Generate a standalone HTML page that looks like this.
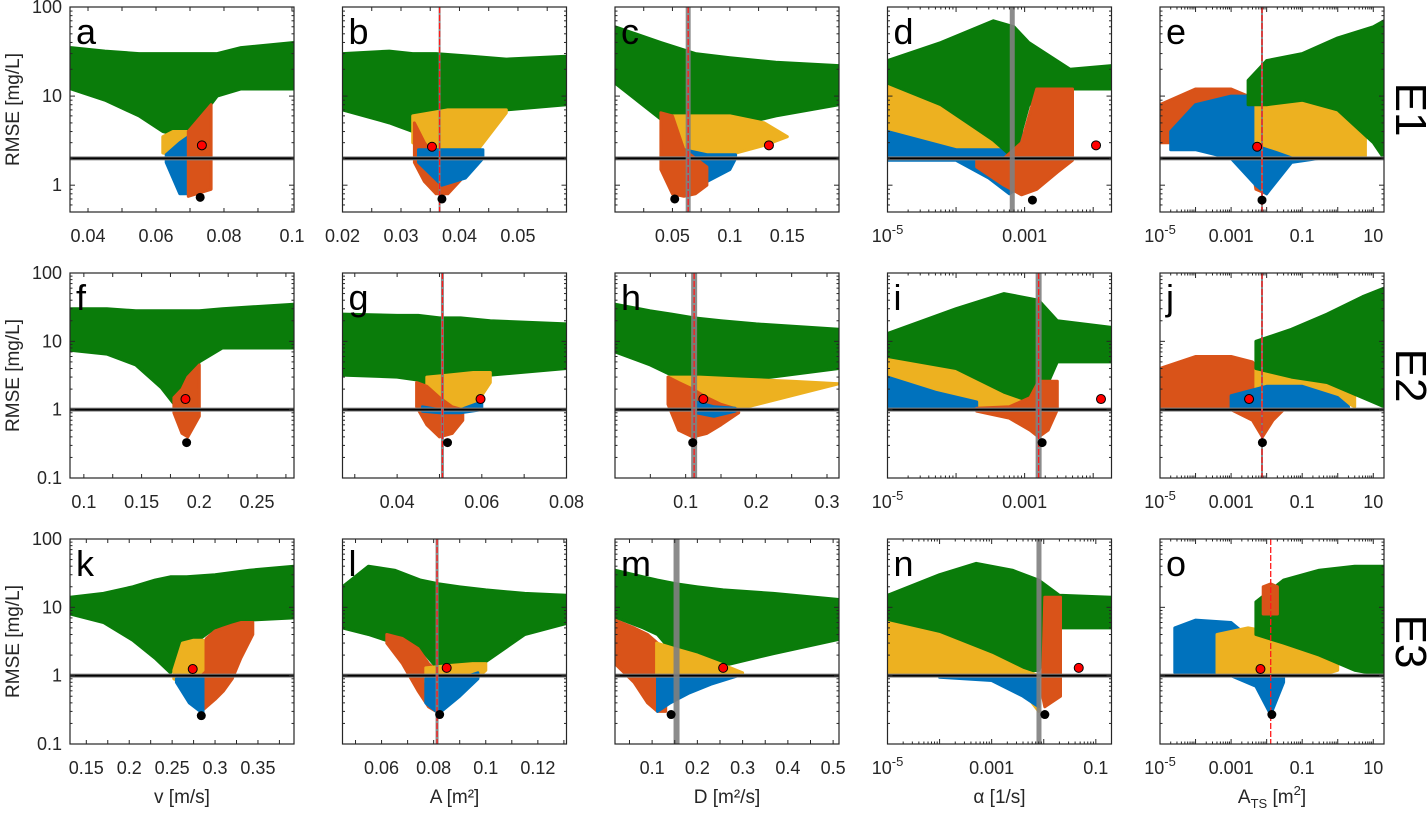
<!DOCTYPE html>
<html><head><meta charset="utf-8"><style>
html,body{margin:0;padding:0;background:#fff;}
svg{display:block;font-family:"Liberation Sans",Arial,sans-serif;}
</style></head><body>
<svg id="fig" width="1427" height="828" viewBox="0 0 1427 828" xmlns="http://www.w3.org/2000/svg"></svg>
<script>
// ---------- data (x in parameter units, y = RMSE mg/L) ----------
const aG_x=[0.035,0.045,0.055,0.062,0.068,0.072,0.078,0.085,0.1006], aG_hi=[35,32,30,30,30,30,30,35,40], aG_lo=[12,9,6,4,3.5,5,10,12,12];
const aY_x=[0.062,0.065,0.069], aY_hi=[3.5,4,4], aY_lo=[2.3,2.2,2.5];
const aB_x=[0.063,0.067,0.0695], aB_hi=[2.2,3,3.5], aB_lo=[1.8,0.8,0.8];
const aO_x=[0.0695,0.0762], aO_hi=[4,8], aO_lo=[0.75,0.9];

const bG_x=[0.02,0.028,0.032,0.036,0.042,0.048,0.0583], bG_hi=[30,32,30,30,28,26,28], bG_lo=[7,5,4,4,5,7,8];
const bY_x=[0.032,0.038,0.042,0.048], bY_hi=[6,7,7,7], bY_lo=[3,2,2,6.5];
const bB_x=[0.033,0.037,0.041,0.044], bB_hi=[2.5,2.5,2.5,2.5], bB_lo=[1.8,1.0,1.2,2.0];
const bO_x=[0.0323,0.034,0.036,0.038,0.0405], bO_hi=[5,3,2,2,2], bO_lo=[1.8,1.1,0.8,0.8,1.2];

const cG_x=[0,0.04,0.07,0.1,0.14,0.195], cG_hi=[60,40,30,27,24,22], cG_lo=[14,5.5,4.5,4.5,6,8];
const cY_x=[0.045,0.07,0.1,0.13,0.15], cY_hi=[6,6,6,5,3.5], cY_lo=[3,2.0,2.2,2.8,3.5];
const cB_x=[0.045,0.06,0.08,0.1,0.105], cB_hi=[3,2.5,2.2,2.2,2.2], cB_lo=[1.5,1.0,1.1,1.5,2.0];
const cO_x=[0.04,0.05,0.06,0.07,0.08], cO_hi=[6.5,6,2.5,2,1.6], cO_lo=[1.5,0.8,0.75,0.8,1.0];

const dG_x=[1e-5,6e-5,3.5e-4,7e-4,1.15e-3,4.6e-3,0.0185], dG_hi=[25,40,70,60,40,20,22], dG_lo=[14,8,3.2,2,8,12,12];
const dY_x=[1e-5,1e-4,5e-4,1e-3], dY_hi=[14,12,6,3], dY_lo=[2,2,2,2];
const dB_x=[1e-5,1e-4,3e-4,6e-4,9e-4], dB_hi=[4,2.5,2.5,2.5,4], dB_lo=[1.9,1.9,1.2,0.8,1.0];
const dO_x=[2e-4,5e-4,9e-4,1.5e-3,3e-3,5e-3], dO_hi=[2,2,3,12,12,12], dO_lo=[1.6,1.0,0.78,0.9,1.4,1.9];

const eO_x=[1e-5,1e-4,1e-3,3e-3,5e-3,0.01,0.02], eO_hi=[8,12,12,10,6,3,2], eO_lo=[3,3,4,3,0.9,0.8,1.8];
const eB_x=[2e-5,1e-4,1e-3,5e-3,0.01,0.05,0.3], eB_hi=[4,8,10,10,8,5,2.5], eB_lo=[2.5,2.5,2,1,0.8,1.8,2];
const eY_x=[5e-3,0.02,0.1,1,6], eY_hi=[14,15,15,12,8], eY_lo=[3,2.5,2,2,2];
const eG_x=[3e-3,0.01,0.1,1,10,20], eG_hi=[15,25,30,45,60,70], eG_lo=[8,8,9,7,3,2];

const fG_x=[0.088,0.12,0.145,0.167,0.18,0.19,0.2,0.22,0.282], fG_hi=[30,30,28,28,28,28,28,30,35], fG_lo=[7.4,6.5,4.5,2.1,1.1,2,5,8,8];
const fO_x=[0.178,0.185,0.19,0.2], fO_hi=[1.5,2,3,4.5], fO_lo=[0.9,0.45,0.4,0.8];

const gG_x=[0.0271,0.04,0.045,0.05,0.055,0.062,0.08], gG_hi=[25,24,24,22,22,20,18], gG_lo=[3.2,3,2.7,1.8,2.2,3.2,4];
const gY_x=[0.047,0.052,0.058,0.062], gY_hi=[3,3.2,3.5,3.5], gY_lo=[1.2,1.05,1.05,2.5];
const gO_x=[0.0446,0.047,0.05,0.053,0.0555], gO_hi=[2.5,2.2,1.5,1.1,1], gO_lo=[1.1,0.6,0.4,0.45,0.7];
const gB_x=[0.046,0.05,0.055,0.06], gB_hi=[1.1,1.0,1.0,1.3], gB_lo=[0.95,0.9,0.9,1.0];

const hG_x=[0,0.05,0.08,0.112,0.15,0.2,0.317], hG_hi=[35,28,25,22,20,18,15], hG_lo=[7,4.5,3.2,2,2.2,2.8,4];
const hY_x=[0.075,0.12,0.18,0.25,0.317], hY_hi=[3,3,2.8,2.6,2.4], hY_lo=[2.5,1.2,1.05,1.6,2.4];
const hO_x=[0.075,0.09,0.11,0.13,0.15,0.175], hO_hi=[3,2.5,2,1.5,1.2,1], hO_lo=[1.2,0.5,0.4,0.45,0.6,0.9];
const hB_x=[0.115,0.14,0.17], hB_hi=[1.3,1.1,1.05], hB_lo=[0.9,0.8,0.95];

const iY_x=[1e-5,1e-4,6e-4,1.5e-3], iY_hi=[7,7,3,1.5], iY_lo=[1.1,1,1,1];
const iB_x=[1e-5,5e-5,2e-4], iB_hi=[3,1.8,1.3], iB_lo=[1,1,1];
const iG_x=[1e-5,1e-4,5e-4,1.6e-3,3e-3,0.0185], iG_hi=[13,30,50,40,20,16], iG_lo=[6,4,1.8,1.2,5,5];
const iO_x=[2e-4,6e-4,1.2e-3,1.6e-3,2.2e-3,3e-3], iO_hi=[1.05,1.1,1.5,2.6,2.6,2.6], iO_lo=[0.95,0.75,0.5,0.4,0.5,1];

const jO_x=[1e-5,1e-4,1e-3,4e-3,7.6e-3,0.015,0.03], jO_hi=[4,6,6,5,3,2,1.1], jO_lo=[1.1,1,1,0.7,0.4,0.7,1];
const jY_x=[5e-3,0.02,0.1,1,3], jY_hi=[4,5.5,5.5,4,2.5], jY_lo=[2,2,2,1.5,1.1];
const jB_x=[1e-3,0.01,0.1,1,2], jB_hi=[1.6,2.2,2.2,1.5,1.1], jB_lo=[1,1,1,1,1];
const jG_x=[5e-3,0.05,0.5,5,20], jG_hi=[10,15,25,45,60], jG_lo=[4,3,2.5,1.5,1.1];

const kG_x=[0.131,0.17,0.204,0.23,0.248,0.267,0.3,0.34,0.392], kG_hi=[14,16,20,25,28,28,30,35,40], kG_lo=[8,6,3.3,1.8,1.1,2.5,5,6.5,7];
const kO_x=[0.284,0.29,0.3,0.31,0.32,0.33,0.344], kO_hi=[2.5,3.5,4.5,5,5.5,6,6], kO_lo=[0.3,0.35,0.45,0.6,0.9,1.8,4];
const kY_x=[0.252,0.262,0.275,0.286], kY_hi=[1.2,3,3.3,3.3], kY_lo=[0.9,0.8,0.9,1.2];
const kB_x=[0.255,0.27,0.286], kB_hi=[0.9,1,1], kB_lo=[0.8,0.4,0.28];

const lG_x=[0.045,0.055,0.065,0.075,0.082,0.09,0.1,0.115,0.131], lG_hi=[20,40,35,25,22,20,18,16,15], lG_lo=[5,4,3,2.5,1.2,1.3,1.6,4,5.8];
const lO_x=[0.062,0.068,0.074,0.078,0.081], lO_hi=[4,3.5,2.5,1.5,1.2], lO_lo=[3,1.5,0.6,0.35,0.3];
const lY_x=[0.077,0.085,0.095,0.1], lY_hi=[1.3,1.4,1.5,1.5], lY_lo=[0.8,0.7,0.8,1.2];
const lB_x=[0.077,0.082,0.09,0.097], lB_hi=[0.9,0.9,0.9,1.1], lB_lo=[0.4,0.28,0.5,0.9];

const mG_x=[0.018,0.08,0.112,0.154,0.2,0.257,0.368,0.513], mG_hi=[35,28,25,22,20,18,16,13], mG_lo=[7.2,5,4,1.9,1.6,1.4,2.1,3.4];
const mO_x=[0.018,0.06,0.09,0.112,0.13], mO_hi=[6.5,5,4,3,1.5], mO_lo=[1.5,0.8,0.4,0.3,0.3];
const mY_x=[0.11,0.15,0.2,0.25,0.3], mY_hi=[3,2.5,2,1.5,1.1], mY_lo=[1,0.9,1,1,1];
const mB_x=[0.112,0.14,0.18,0.23,0.29], mB_hi=[1,1,1,1,1], mB_lo=[0.3,0.4,0.55,0.75,1];

const nB_x=[1e-4,1e-3,4e-3,8e-3], nB_hi=[1,1,1,1], nB_lo=[0.95,0.85,0.5,0.35];
const nY_x=[1e-5,1e-4,1e-3,4e-3,8e-3], nY_hi=[6,4,2,1.2,1], nY_lo=[1,1,0.95,0.6,0.3];
const nG_x=[1e-5,1e-4,5e-4,2.5e-3,8e-3,0.02,0.2], nG_hi=[15,30,44,35,25,15,14], nG_lo=[5,3,1.7,1.1,1.2,5,5];
const nO_x=[0.0095,0.0105,0.021], nO_hi=[0.8,14,14], nO_lo=[0.5,0.35,0.5];

const oB_x=[2.6e-5,1e-4,1e-3,5e-3,0.013,0.03], oB_hi=[5,6.5,6,3,1.2,1], oB_lo=[1.1,1,1,0.7,0.27,0.8];
const oY_x=[4e-4,3e-3,0.03,0.3,1], oY_hi=[4,5,4,2,1.5], oY_lo=[1.1,1,1,1,1.2];
const oG_x=[5e-3,0.03,0.3,3,20], oG_hi=[12,25,35,40,40], oG_lo=[4,3,2,1.2,1];
const oO_x=[0.008,0.013,0.02], oO_hi=[20,22,20], oO_lo=[8,8,8];

// best-fit markers: [x, rmse]
const redDots=[[0.0735,2.8],[0.0353,2.7],[0.134,2.8],[0.011,2.8],[0.0054,2.7],
  [0.188,1.43],[0.0597,1.43],[0.125,1.43],[0.013,1.43],[0.0032,1.43],
  [0.274,1.25],[0.085,1.3],[0.257,1.3],[0.047,1.3],[0.0067,1.25]];
const blackDots=[[0.073,0.73],[0.037,0.7],[0.052,0.7],[0.0013,0.68],[0.0074,0.68],
  [0.189,0.33],[0.0519,0.33],[0.11,0.33],[0.0018,0.33],[0.0076,0.33],
  [0.284,0.26],[0.0823,0.27],[0.142,0.27],[0.0105,0.27],[0.014,0.27]];
const thresholds=[2,2,2,2,2,1,1,1,1,1,1,1,1,1,1];
// reference lines: [x, grayWidth(0=none), red(1/0)]
const refLines=[null,[0.0366,2,1],[0.0637,5,1],[6.6e-4,5,0],[0.0074,2,1],
  null,[0.0507,3,1],[0.112,6,1],[1.6e-3,6,1],[0.0074,2,1],
  null,[0.0813,3,1],[0.154,6,0],[8.1e-3,5,0],[0.013,0,1]];
const letters=['a','b','c','d','e','f','g','h','i','j','k','l','m','n','o'];
const xMins=[0.0347,0.02,0,1e-5,1e-5, 0.088,0.0271,0,1e-5,1e-5, 0.131,0.045,0.018,1e-5,1e-5];
const xMaxs=[0.1006,0.0583,0.195,0.0185,20, 0.282,0.08,0.317,0.0185,20, 0.392,0.131,0.513,0.2,20];
const xLogs=[0,0,0,1,1, 0,0,0,1,1, 0,0,0,1,1];
const xTicks=[[0.04,0.06,0.08,0.1],[0.02,0.03,0.04,0.05],[0.05,0.1,0.15],[1e-5,1e-3],[1e-5,1e-3,0.1,10],
  [0.1,0.15,0.2,0.25],[0.04,0.06,0.08],[0.1,0.2,0.3],[1e-5,1e-3],[1e-5,1e-3,0.1,10],
  [0.15,0.2,0.25,0.3,0.35],[0.06,0.08,0.1,0.12],[0.1,0.2,0.3,0.4,0.5],[1e-5,1e-3,0.1],[1e-5,1e-3,0.1,10]];
const xLabels=[['0.04','0.06','0.08','0.1'],['0.02','0.03','0.04','0.05'],['0.05','0.1','0.15'],['E-5','0.001'],['E-5','0.001','0.1','10'],
  ['0.1','0.15','0.2','0.25'],['0.04','0.06','0.08'],['0.1','0.2','0.3'],['E-5','0.001'],['E-5','0.001','0.1','10'],
  ['0.15','0.2','0.25','0.3','0.35'],['0.06','0.08','0.1','0.12'],['0.1','0.2','0.3','0.4','0.5'],['E-5','0.001','0.1'],['E-5','0.001','0.1','10']];
const yMins=[0.5,0.1,0.1];
const xTitles=['v [m/s]','A [m²]','D [m²/s]','α [1/s]','ATS'];
const rowLabels=['E1','E2','E3'];

const regionSets=[
 [['g',aG_x,aG_lo,aG_hi],['y',aY_x,aY_lo,aY_hi],['b',aB_x,aB_lo,aB_hi],['o',aO_x,aO_lo,aO_hi]],
 [['g',bG_x,bG_lo,bG_hi],['y',bY_x,bY_lo,bY_hi],['o',bO_x,bO_lo,bO_hi],['b',bB_x,bB_lo,bB_hi]],
 [['g',cG_x,cG_lo,cG_hi],['y',cY_x,cY_lo,cY_hi],['b',cB_x,cB_lo,cB_hi],['o',cO_x,cO_lo,cO_hi]],
 [['y',dY_x,dY_lo,dY_hi],['b',dB_x,dB_lo,dB_hi],['g',dG_x,dG_lo,dG_hi],['o',dO_x,dO_lo,dO_hi]],
 [['o',eO_x,eO_lo,eO_hi],['b',eB_x,eB_lo,eB_hi],['y',eY_x,eY_lo,eY_hi],['g',eG_x,eG_lo,eG_hi]],
 [['g',fG_x,fG_lo,fG_hi],['o',fO_x,fO_lo,fO_hi]],
 [['g',gG_x,gG_lo,gG_hi],['y',gY_x,gY_lo,gY_hi],['o',gO_x,gO_lo,gO_hi],['b',gB_x,gB_lo,gB_hi]],
 [['g',hG_x,hG_lo,hG_hi],['y',hY_x,hY_lo,hY_hi],['o',hO_x,hO_lo,hO_hi],['b',hB_x,hB_lo,hB_hi]],
 [['y',iY_x,iY_lo,iY_hi],['b',iB_x,iB_lo,iB_hi],['g',iG_x,iG_lo,iG_hi],['o',iO_x,iO_lo,iO_hi]],
 [['o',jO_x,jO_lo,jO_hi],['y',jY_x,jY_lo,jY_hi],['b',jB_x,jB_lo,jB_hi],['g',jG_x,jG_lo,jG_hi]],
 [['g',kG_x,kG_lo,kG_hi],['o',kO_x,kO_lo,kO_hi],['y',kY_x,kY_lo,kY_hi],['b',kB_x,kB_lo,kB_hi]],
 [['g',lG_x,lG_lo,lG_hi],['o',lO_x,lO_lo,lO_hi],['y',lY_x,lY_lo,lY_hi],['b',lB_x,lB_lo,lB_hi]],
 [['g',mG_x,mG_lo,mG_hi],['o',mO_x,mO_lo,mO_hi],['y',mY_x,mY_lo,mY_hi],['b',mB_x,mB_lo,mB_hi]],
 [['g',nG_x,nG_lo,nG_hi],['y',nY_x,nY_lo,nY_hi],['b',nB_x,nB_lo,nB_hi],['o',nO_x,nO_lo,nO_hi]],
 [['b',oB_x,oB_lo,oB_hi],['y',oY_x,oY_lo,oY_hi],['g',oG_x,oG_lo,oG_hi],['o',oO_x,oO_lo,oO_hi]]
];
const colors={g:'#0a7c0a',o:'#D95319',y:'#EDB120',b:'#0072BD'};
const colorNames={g:'green',o:'orange',y:'yellow',b:'blue'};

// ---------- drawing ----------
const NS='http://www.w3.org/2000/svg';
const svg=document.getElementById('fig');
const W=224,H=205;
function mk(tag,attrs,parent){const e=document.createElementNS(NS,tag);for(const k in attrs)e.setAttribute(k,attrs[k]);(parent||svg).appendChild(e);return e;}
function sx(i,v){const x0=70+(i%5)*272.5;let t;
  if(xLogs[i]){const a=Math.log10(xMins[i]),b=Math.log10(xMaxs[i]);t=(Math.log10(v)-a)/(b-a);}
  else t=(v-xMins[i])/(xMaxs[i]-xMins[i]);
  return x0+t*W;}
function sy(i,v){const r=Math.floor(i/5);const y0=[7,273,539][r];const lm=Math.log10(yMins[r]);return y0+(2-Math.log10(v))/(2-lm)*H;}

const defs=mk('defs',{});
for(let i=0;i<15;i++){
  const col=i%5,row=Math.floor(i/5);
  const x0=70+col*272.5,y0=[7,273,539][row];
  const cp=mk('clipPath',{id:'cp'+i},defs);mk('rect',{x:x0,y:y0,width:W,height:H},cp);
  const g=mk('g',{'clip-path':'url(#cp'+i+')'});
  
  
  regionSets[i].forEach(function(r){
    const xs=r[1],lo=r[2],hi=r[3];
    const pts=[];
    for(let k=0;k<xs.length;k++)pts.push(sx(i,xs[k]).toFixed(1)+','+sy(i,hi[k]).toFixed(1));
    for(let k=xs.length-1;k>=0;k--)pts.push(sx(i,xs[k]).toFixed(1)+','+sy(i,lo[k]).toFixed(1));
    const p=mk('polygon',{points:pts.join(' '),fill:colors[r[0]],stroke:colors[r[0]],'stroke-width':3,'stroke-linejoin':'round'},g);
    
    
  });
  const ty=sy(i,thresholds[i]);
  mk('line',{x1:x0,x2:x0+W,y1:ty,y2:ty,stroke:'#888','stroke-width':4},g);
  const hl=mk('line',{x1:x0,x2:x0+W,y1:ty,y2:ty,stroke:'#000','stroke-width':2},g);
  
  
  const rl=refLines[i];
  if(rl){const vx=sx(i,rl[0]);
    if(rl[1]>0){const v=mk('line',{x1:vx,x2:vx,y1:y0,y2:y0+H,stroke:'#808080','stroke-width':rl[1],opacity:0.9},g);
      }
    if(rl[2]){const v=mk('line',{x1:vx,x2:vx,y1:y0,y2:y0+H,stroke:'#ff1a1a','stroke-width':1.3,'stroke-dasharray':'6,2'},g);
      }
  }
  const rd=mk('circle',{cx:sx(i,redDots[i][0]),cy:sy(i,redDots[i][1]),r:4.5,fill:'#ff0000',stroke:'#000','stroke-width':1});
  
  const bd=mk('circle',{cx:sx(i,blackDots[i][0]),cy:sy(i,blackDots[i][1]),r:4.5,fill:'#000'});
  
  const bx=mk('rect',{x:x0,y:y0,width:W,height:H,fill:'none',stroke:'#262626','stroke-width':1.2});
  
  for(let d=Math.floor(Math.log10(yMins[row]));d<2;d++){
    for(let m=1;m<10;m++){const v=m*Math.pow(10,d);if(v<yMins[row]-1e-9)continue;const yy=sy(i,v);const len=m===1?5:2.5;
      mk('line',{x1:x0,x2:x0+len,y1:yy,y2:yy,stroke:'#262626','stroke-width':1});
      mk('line',{x1:x0+W,x2:x0+W-len,y1:yy,y2:yy,stroke:'#262626','stroke-width':1});}
  }
  if(col===0){
    const yl=row===0?[100,10,1]:[100,10,1,0.1];
    yl.forEach(function(v){const t=mk('text',{x:62,y:sy(i,v)+6,'text-anchor':'end','font-size':18,fill:'#262626'});t.textContent=String(v);
      });
    const yt=mk('text',{x:0,y:0,'text-anchor':'middle','font-size':19,fill:'#262626',transform:'translate(19,'+(y0+H/2)+') rotate(-90)'});
    yt.textContent='RMSE [mg/L]';
  }
  if(xLogs[i]){
    const a=Math.ceil(Math.log10(xMins[i])-1e-9),b=Math.floor(Math.log10(xMaxs[i]));
    for(let d=a-1;d<=b;d++)for(let m=1;m<10;m++){const v=m*Math.pow(10,d);if(v<xMins[i]*0.999||v>xMaxs[i])continue;const xx=sx(i,v);const len=m===1?5:2.5;
      mk('line',{x1:xx,x2:xx,y1:y0+H,y2:y0+H-len,stroke:'#262626','stroke-width':1});mk('line',{x1:xx,x2:xx,y1:y0,y2:y0+len,stroke:'#262626','stroke-width':1});}
  } else {
    const step=(xTicks[i][1]-xTicks[i][0])/2;
    for(let v=xTicks[i][0]-20*step;v<=xMaxs[i]+1e-9;v+=step){if(v<xMins[i]-1e-9)continue;const xx=sx(i,v);
      mk('line',{x1:xx,x2:xx,y1:y0+H,y2:y0+H-4,stroke:'#262626','stroke-width':1});mk('line',{x1:xx,x2:xx,y1:y0,y2:y0+4,stroke:'#262626','stroke-width':1});}
  }
  xTicks[i].forEach(function(v,k){const lab=xLabels[i][k];
    const t=mk('text',{x:sx(i,v),y:y0+H+30,'text-anchor':'middle','font-size':18,fill:'#262626'});
    if(lab==='E-5'){t.textContent='10';const s=mk('tspan',{dy:-8,'font-size':13},t);s.textContent='-5';}
    else t.textContent=lab;
    });
  const L=mk('text',{x:x0+6,y:y0+37,'font-size':36,fill:'#000'});L.textContent=letters[i];
  
  if(row===2){
    const t=mk('text',{x:x0+W/2,y:803,'text-anchor':'middle','font-size':19,fill:'#262626'});
    if(col===4){t.textContent='A';const s=mk('tspan',{dy:5,'font-size':13},t);s.textContent='TS';const s2=mk('tspan',{dy:-5},t);s2.textContent=' [m';const s3=mk('tspan',{dy:-8,'font-size':13},t);s3.textContent='2';const s4=mk('tspan',{dy:8},t);s4.textContent=']';}
    else t.textContent=xTitles[col];
    
  }
}
rowLabels.forEach(function(s,r){const y0=[7,273,539][r];
  const t=mk('text',{x:0,y:0,'text-anchor':'middle','font-size':44,fill:'#000',transform:'translate(1396,'+(y0+H/2)+') rotate(90)'});
  t.textContent=s;});
</script>
</body></html>
